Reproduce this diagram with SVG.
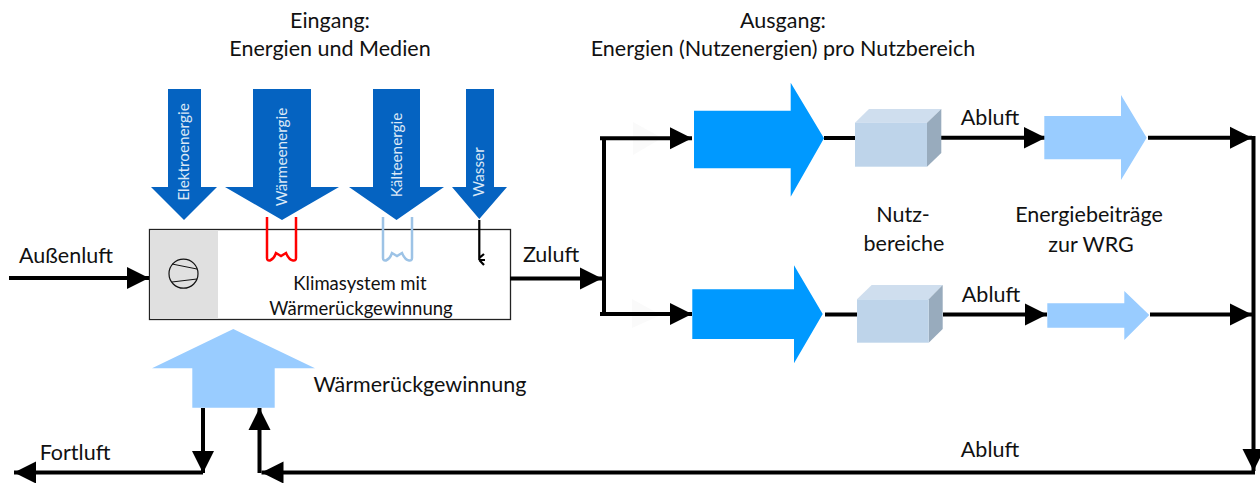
<svg xmlns="http://www.w3.org/2000/svg" width="1260" height="483" viewBox="0 0 1260 483">
<style>
text{font-family:"Lato","Open Sans","Liberation Sans",sans-serif;font-size:21.5px;fill:#111;text-anchor:middle}
.k{font-size:18.5px}
.v{font-size:15.3px;fill:#dbe8f6}
.in{fill:#0563c1}
.out{fill:#0099ff}
.wrg{fill:#99ccff}
.c{fill:none;stroke:#000;stroke-width:4}
.front{fill:#bed4ea}
.top{fill:#cfdeee}
.side{fill:#98abbd}
.ghost{fill:#fafafa}
</style>
<defs>
<marker id="ah" markerUnits="userSpaceOnUse" markerWidth="23" markerHeight="23" refX="22" refY="11.5" orient="auto"><path d="M0 0.5L22 11.5L0 22.5Z" fill="#000"/></marker>
</defs>
<g id="ghosts">
<path class="ghost" d="M633 122L662 138L633 155Z"/>
<path class="ghost" d="M632 299L661 315L632 328Z"/>
</g>
<g id="title-in"><text x="330" y="28">Eingang:</text><text x="330" y="56">Energien und Medien</text></g>
<g id="title-out"><text x="783" y="28">Ausgang:</text><text x="783" y="56">Energien (Nutzenergien) pro Nutzbereich</text></g>
<g id="klimasystem">
<rect x="149.5" y="229.5" width="361" height="90" fill="#fff" stroke="#222" stroke-width="1.3"/>
<rect x="150.2" y="230.2" width="67.8" height="88.6" fill="#e0e0e0"/>
<circle cx="183.5" cy="273.7" r="14.5" fill="none" stroke="#111" stroke-width="1.2"/>
<path d="M172 264L197 269M172 282L197 279" fill="none" stroke="#111" stroke-width="1"/>
<text class="k" x="360" y="290">Klimasystem mit</text><text class="k" x="361" y="315">Wärmerückgewinnung</text>
<path d="M267 217V258Q267 261 270 260.5Q274 259 276 253L281 256L286 253Q289 260 293 260.5Q296 261 296 258V217" fill="none" stroke="#ff0000" stroke-width="2.5"/>
<path d="M383 217V258Q383 261 386 260.5Q390 259 392 253L397 256L402 253Q405 260 409 260.5Q412 261 412 258V217" fill="none" stroke="#9dc3e6" stroke-width="2.5"/>
<path d="M479.3 220V260M479.3 260L484 265M479.3 260L485 260M479.3 258L484 254" fill="none" stroke="#000" stroke-width="2.2"/>
</g>
<g id="elektroenergie"><path class="in" d="M168 89H201V187H217L184 220L151 187H168Z"/><text class="v" transform="translate(189 152) rotate(-90)">Elektroenergie</text></g>
<g id="waermeenergie"><path class="in" d="M253 89H311V187H339L282 220L225 187H253Z"/><text class="v" transform="translate(287 157) rotate(-90)">Wärmeenergie</text></g>
<g id="kaelteenergie"><path class="in" d="M373 89H420V187H444L396.5 220L349 187H373Z"/><text class="v" transform="translate(402 155) rotate(-90)">Kälteenergie</text></g>
<g id="wasser"><path class="in" d="M466 89H494V187H507L479.3 219L452 187H466Z"/><text class="v" transform="translate(484 172) rotate(-90)">Wasser</text></g>
<g id="connectors">
<path class="c" d="M9 278H149" marker-end="url(#ah)"/>
<path class="c" d="M510 278.5H602" marker-end="url(#ah)"/>
<path class="c" d="M604 138V314"/>
<path class="c" d="M600 138.3H692" marker-end="url(#ah)"/>
<path class="c" d="M600 314H692" marker-end="url(#ah)"/>
<path class="c" d="M824 138H855"/>
<path class="c" d="M825 314.5H857"/>
<path class="c" d="M941 137.7H1045.6" marker-end="url(#ah)"/>
<path class="c" d="M943 314.5H1047" marker-end="url(#ah)"/>
<path class="c" d="M1148 137.7H1252" marker-end="url(#ah)"/>
<path class="c" d="M1150 314.5H1252" marker-end="url(#ah)"/>
<path class="c" d="M1253.5 136V471" marker-end="url(#ah)"/>
<path class="c" d="M1255 472.5H261.5" marker-end="url(#ah)"/>
<path class="c" d="M259.5 473V408" marker-end="url(#ah)"/>
<path class="c" d="M203 408V473" marker-end="url(#ah)"/>
<path class="c" d="M203 472.5H14" marker-end="url(#ah)"/>
</g>
<g id="wrg"><path class="wrg" d="M233.3 329L315 368.3H274.7V407.7H192.3V368.3H152Z"/></g>
<g id="supply-1"><path class="out" d="M694 110.7H790.7V82.7L824 138.3L790.7 196.7V168.3H694Z"/></g>
<g id="supply-2"><path class="out" d="M692.3 289.3H794V265.3L822.7 314L794 363.3V339H692.3Z"/></g>
<g id="zone-1"><path class="top" d="M855 122.7L869 109H941.3L927 122.7Z"/><path class="side" d="M927 122.7L941.3 109V153L927 166.7Z"/><rect class="front" x="855" y="122.7" width="72" height="44"/></g>
<g id="zone-2"><path class="top" d="M857 299.3L871.7 285H942.7L928.7 299.3Z"/><path class="side" d="M928.7 299.3L942.7 285V329L928.7 342.7Z"/><rect class="front" x="857" y="299.3" width="71.7" height="43.4"/></g>
<g id="wrg-1"><path class="wrg" d="M1044.3 116H1121V95L1146.7 137.7L1121 180V159.3H1044.3Z"/></g>
<g id="wrg-2"><path class="wrg" d="M1047.3 303.3H1124.3V291L1149.3 315L1124.3 340V327.7H1047.3Z"/></g>
<g id="labels">
<text x="66" y="263">Außenluft</text>
<text x="551" y="262">Zuluft</text>
<text x="990" y="125">Abluft</text>
<text x="991" y="302">Abluft</text>
<text x="990" y="457">Abluft</text>
<text x="75" y="460">Fortluft</text>
<text x="420" y="392">Wärmerückgewinnung</text>
<text x="903" y="222">Nutz-</text><text x="904" y="251">bereiche</text>
<text x="1089" y="222">Energiebeiträge</text><text x="1091" y="252">zur WRG</text>
</g>
</svg>
